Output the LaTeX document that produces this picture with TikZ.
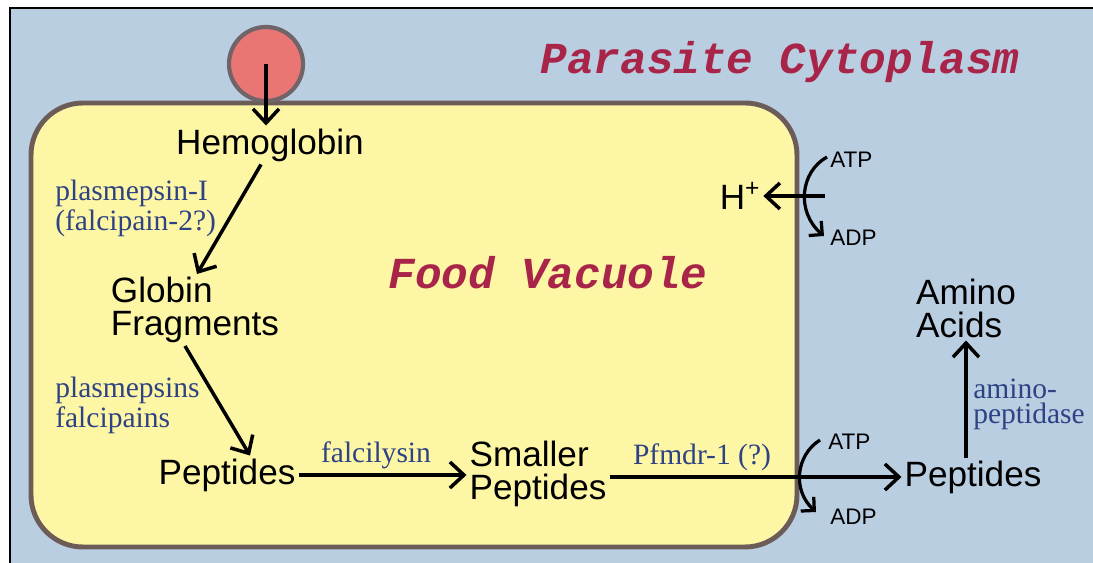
\documentclass[tikz,border=0pt]{standalone}
\usepackage{fontspec}
\setmainfont{Liberation Serif}
\setsansfont{Liberation Sans}
\setmonofont{Liberation Mono}
\usetikzlibrary{positioning, arrows.meta, calc}
\definecolor{cytoblue}{RGB}{186,206,226}
\definecolor{vacyellow}{RGB}{253,247,165}
\definecolor{vacborder}{RGB}{108,92,88}
\definecolor{rbcred}{RGB}{234,118,116}
\definecolor{rbcborder}{RGB}{112,100,104}
\definecolor{enzblue}{RGB}{46,66,132}
\definecolor{titlered}{RGB}{168,36,72}
\tikzset{
  substance/.style={font=\sffamily\fontsize{25}{23.5}\selectfont, inner sep=2pt, align=left},
  enzyme/.style={font=\fontsize{21}{21.3}\selectfont, text=enzblue, inner sep=0pt, align=left},
  nucleotide/.style={font=\sffamily\fontsize{16}{16}\selectfont, inner sep=0pt},
  region/.style={font=\ttfamily\bfseries\itshape\fontsize{31.5}{32}\selectfont, text=titlered},
  vacuole/.style={draw=vacborder, fill=vacyellow, line width=3.5pt, rounded corners=1.3cm},
  rbc/.style={circle, draw=rbcborder, fill=rbcred, line width=3pt, minimum size=1.85cm},
  arrow/.style={line width=2.5pt, -{Straight Barb[length=3.5mm,width=6.5mm]}},
  pump/.style={line width=2.3pt, -{Straight Barb[length=2.4mm,width=4.8mm]}}
}

\begin{document}
\begin{tikzpicture}[x=0.025cm, y=-0.025cm]
    \useasboundingbox (0,0) rectangle (1093,563);

    % 1. Citoplasma y vacuola
    \fill[cytoblue] (10,8) rectangle (1093,563);
    \draw[line width=1.5pt] (10,563) -- (10,8) -- (1093,8);
    \draw[vacuole] (31,103) rectangle (797,547);
    \node[rbc] (rbc) at (266,64) {};

    % Titulos de las regiones
    \node[region] (cyto) at (780,62) {Parasite Cytoplasm};
    \node[region] (vac) at (548,273) {Food Vacuole};

    % ==========================================
    % 2. Sustancias
    % ==========================================
    \node[substance] (hemo) at (270,145) {Hemoglobin};
    \node[substance] (globin) at (195,310) {Globin\\Fragments};
    \node[substance] (pep1) at (227,475) {Peptides};
    \node[substance] (small) at (538,474) {Smaller\\Peptides};
    \node[substance] (pep2) at (973,477) {Peptides};
    \node[substance] (amino) at (966,308) {Amino\\Acids};
    \node[substance] (hplus) at (740,196) {H\textsuperscript{+}};

    % Enzimas
    \node[enzyme, anchor=west] (enzA) at (55,208) {plasmepsin-I\\(falcipain-2?)};
    \node[enzyme, anchor=west] (enzB) at (55,405) {plasmepsins\\falcipains};
    \node[enzyme] (enzC) at (376,455) {falcilysin};
    \node[enzyme] (enzD) at (702,457) {Pfmdr-1 (?)};
    \node[enzyme, anchor=west] (enzE) at (973,404) {amino-\\[-0.12cm]peptidase};

    % ATP / ADP
    \node[nucleotide, anchor=west] (atpA) at (830,160) {ATP};
    \node[nucleotide, anchor=west] (adpA) at (830,238) {ADP};
    \node[nucleotide, anchor=west] (atpB) at (828,442) {ATP};
    \node[nucleotide, anchor=west] (adpB) at (830,517) {ADP};

    % ==========================================
    % 3. Flechas
    % ==========================================
    \draw[arrow] (rbc.center) -- (rbc.center |- hemo.north);
    \draw[arrow] ($(hemo.south)+(-9,0)$) -- ($(globin.north)+(2,0)$);
    \draw[arrow] ($(globin.south)+(-10,0)$) -- ($(pep1.north)+(23,0)$);
    \draw[arrow] (pep1.east) -- (pep1.east -| small.west);
    \draw[arrow] (small.east |- pep2) -- (pep2.west);
    \draw[arrow] (pep2.north -| amino.south) -- (amino.south);

    % Bomba de protones
    \coordinate (hsrc) at (825,196);
    \draw[arrow] (hsrc) -- (hplus.east);
    \coordinate (pinA) at (827,157);
    \coordinate (poutA) at (824,236);
    \draw[pump] (pinA) .. controls (800,172) and (796,212) .. (poutA);

    % Transportador de peptidos
    \coordinate (pinB) at (820,440);
    \coordinate (poutB) at (816,512);
    \draw[pump] (pinB) .. controls (796,455) and (792,490) .. (poutB);

\end{tikzpicture}
\end{document}
